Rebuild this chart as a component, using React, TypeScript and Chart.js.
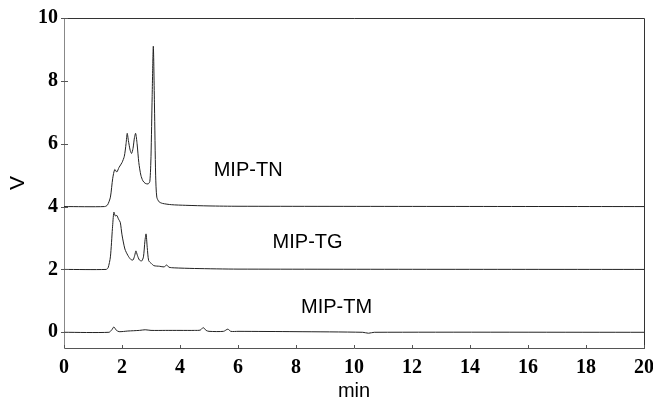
import React, { useEffect, useRef } from "react";
import { Chart, registerables } from "chart.js";

Chart.register(...registerables);

// MIP-TN trace (offset baseline 4 V)
const tnTime = [0, 1.4, 1.5, 1.6, 1.68, 1.75, 1.82, 1.9, 2.0, 2.08, 2.14, 2.18, 2.22, 2.28, 2.33, 2.38, 2.43, 2.47, 2.52, 2.58, 2.65, 2.72, 2.8, 2.9, 2.96, 3.0, 3.04, 3.08, 3.12, 3.16, 3.2, 3.28, 3.4, 3.7, 4.2, 5.0, 6, 20];
const tnVolt = [4.0, 4.0, 4.05, 4.3, 4.9, 5.18, 5.1, 5.25, 5.4, 5.6, 6.0, 6.33, 6.1, 5.8, 5.69, 5.85, 6.2, 6.33, 6.0, 5.4, 5.0, 4.82, 4.74, 4.72, 4.8, 5.6, 7.5, 9.1, 7.2, 5.0, 4.3, 4.15, 4.1, 4.06, 4.04, 4.02, 4.01, 4.0];

// MIP-TG trace (offset baseline 2 V)
const tgTime = [0, 1.45, 1.52, 1.6, 1.67, 1.72, 1.77, 1.82, 1.88, 1.94, 2.0, 2.1, 2.2, 2.3, 2.38, 2.44, 2.48, 2.53, 2.6, 2.68, 2.74, 2.79, 2.83, 2.87, 2.92, 3.0, 3.1, 3.3, 3.45, 3.54, 3.62, 3.8, 4.5, 6, 20];
const tgVolt = [2.0, 2.0, 2.05, 2.4, 3.3, 3.82, 3.7, 3.72, 3.6, 3.5, 3.1, 2.65, 2.45, 2.32, 2.3, 2.45, 2.59, 2.45, 2.3, 2.27, 2.4, 2.9, 3.13, 2.7, 2.28, 2.2, 2.12, 2.1, 2.08, 2.14, 2.07, 2.05, 2.03, 2.01, 2.0];

// MIP-TM trace (baseline 0 V)
const tmTime = [0, 1.55, 1.65, 1.72, 1.8, 1.9, 2.2, 2.6, 2.8, 3.0, 3.5, 4.0, 4.5, 4.7, 4.8, 4.9, 5.0, 5.5, 5.65, 5.75, 6, 8, 10.3, 10.5, 10.7, 20];
const tmVolt = [0, 0, 0.08, 0.17, 0.07, 0.02, 0.04, 0.06, 0.08, 0.06, 0.06, 0.06, 0.06, 0.07, 0.15, 0.06, 0.03, 0.03, 0.1, 0.03, 0.03, 0.02, 0.0, -0.03, 0.0, 0.0];

const traceLabels = ["MIP-TN", "MIP-TG", "MIP-TM"];
const labelAnchorsX = [6.35, 8.4, 9.4];
const labelAnchorsY = [5.15, 2.85, 0.78];

const yTicks = [0, 2, 4, 6, 8, 10];
const xTicks = [0, 2, 4, 6, 8, 10, 12, 14, 16, 18, 20];

const pts = (t: number[], v: number[]) => t.map((x, i) => ({ x, y: v[i] }));

const TICK_FONT = { family: "'Liberation Serif', 'Times New Roman', serif", size: 20, weight: "bold" };

const framePlugin = {
  id: "frameAndLabels",
  afterDraw(chart: any) {
    const { ctx, chartArea, scales } = chart;
    ctx.save();
    ctx.strokeStyle = "#333";
    ctx.lineWidth = 1;
    ctx.beginPath();
    ctx.moveTo(chartArea.left, chartArea.top + 0.5);
    ctx.lineTo(chartArea.right + 0.5, chartArea.top + 0.5);
    ctx.lineTo(chartArea.right + 0.5, chartArea.bottom);
    ctx.stroke();
    // small tick marks crossing the axes
    ctx.strokeStyle = "#555";
    ctx.beginPath();
    yTicks.forEach((v) => {
      const y = Math.round(scales.y.getPixelForValue(v)) + 0.5;
      ctx.moveTo(chartArea.left - 3, y);
      ctx.lineTo(chartArea.left + 4, y);
    });
    xTicks.forEach((v) => {
      const x = Math.round(scales.x.getPixelForValue(v)) + 0.5;
      ctx.moveTo(x, chartArea.bottom - 3);
      ctx.lineTo(x, chartArea.bottom);
    });
    ctx.stroke();
    ctx.fillStyle = "#000";
    ctx.font = "20px 'Liberation Sans', Arial, sans-serif";
    ctx.textAlign = "center";
    ctx.textBaseline = "middle";
    traceLabels.forEach((lab, i) => {
      ctx.fillText(lab, scales.x.getPixelForValue(labelAnchorsX[i]), scales.y.getPixelForValue(labelAnchorsY[i]));
    });
    ctx.restore();
  },
};

export default function App() {
  const ref = useRef<HTMLCanvasElement>(null);
  useEffect(() => {
    document.body.style.margin = "0";
    const mk = (t: number[], v: number[]) => ({
      data: pts(t, v),
      borderColor: "#222",
      borderWidth: 1,
      pointRadius: 0,
      tension: 0.25,
      fill: false,
    });
    const chart = new Chart(ref.current!, {
      type: "line",
      data: {
        datasets: [mk(tnTime, tnVolt), mk(tgTime, tgVolt), mk(tmTime, tmVolt)],
      },
      options: {
        animation: false,
        responsive: false,
        layout: { padding: { top: 18, right: 9, left: 0, bottom: 0 } },
        plugins: { legend: { display: false }, tooltip: { enabled: false } },
        scales: {
          x: {
            type: "linear",
            min: 0,
            max: 20,
            afterBuildTicks: (s: any) => { s.ticks = xTicks.map((v) => ({ value: v })); },
            ticks: { color: "#000", padding: 8, maxRotation: 0, font: TICK_FONT },
            grid: { display: false, drawOnChartArea: false, tickLength: 0 },
            border: { display: true, color: "#555", dash: [3, 2], width: 1 },
            title: {
              display: true,
              text: "min",
              color: "#000",
              padding: { top: 0, bottom: -4 },
              font: { family: "'Liberation Sans', Arial, sans-serif", size: 20 },
            },
            afterFit: (s: any) => { s.height = 51; s.paddingRight = 0; s.paddingLeft = 0; },
          },
          y: {
            type: "linear",
            min: -0.5,
            max: 10,
            afterBuildTicks: (s: any) => { s.ticks = yTicks.map((v) => ({ value: v })); },
            ticks: { color: "#000", padding: 6, font: TICK_FONT },
            grid: { display: false, drawOnChartArea: false, tickLength: 0 },
            border: { display: true, color: "#888", dash: [3, 2], width: 1 },
            title: {
              display: true,
              text: "V",
              color: "#000",
              padding: { top: 6, bottom: 0 },
              font: { family: "'Liberation Sans', Arial, sans-serif", size: 21 },
            },
            afterFit: (s: any) => { s.width = 64; s.paddingTop = 0; s.paddingBottom = 0; },
          },
        },
      },
      plugins: [framePlugin],
    } as any);
    return () => chart.destroy();
  }, []);
  return (
    <div style={{ position: "relative", width: 653, height: 399, background: "#fff" }}>
      <canvas ref={ref} width={653} height={399} style={{ width: 653, height: 399 }} />
    </div>
  );
}
